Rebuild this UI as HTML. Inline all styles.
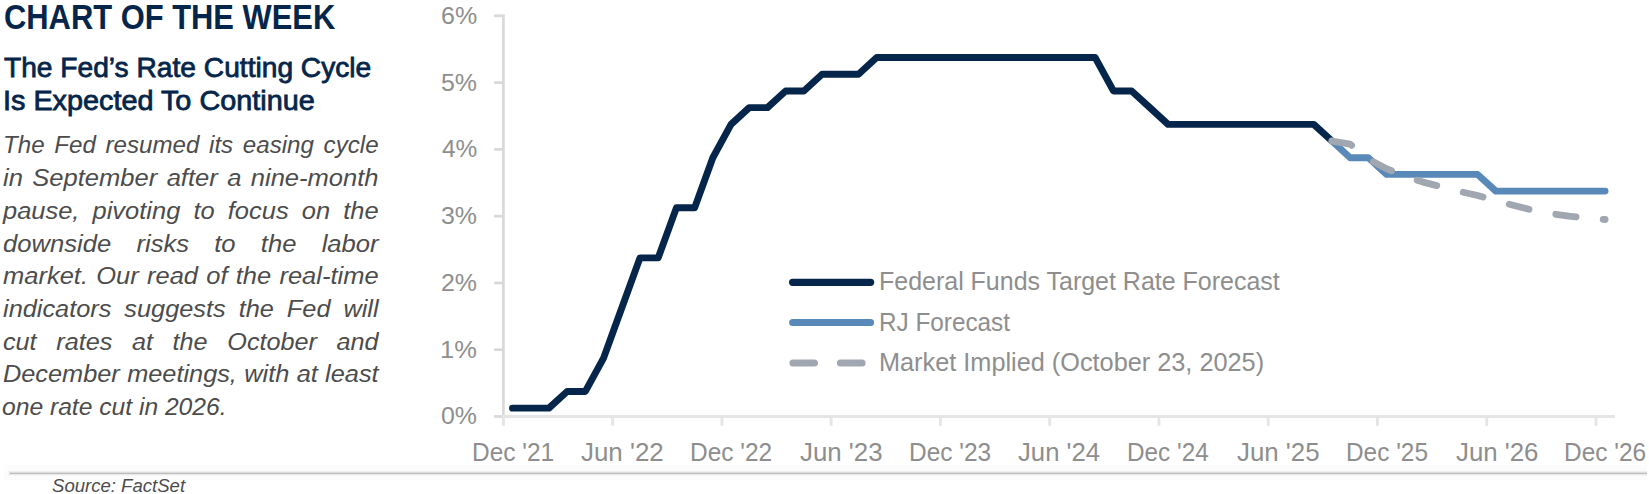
<!DOCTYPE html>
<html lang="en"><head><meta charset="utf-8"><title>Chart of the Week</title>
<style>
html,body{margin:0;padding:0;background:#fff;}
body{width:1649px;height:494px;position:relative;overflow:hidden;font-family:"Liberation Sans",sans-serif;}
.t{position:absolute;white-space:nowrap;line-height:1;transform-origin:0 0;}
.b{font-weight:bold;} .sb{-webkit-text-stroke:0.8px #05264a;} .i{font-style:italic;}
.navy{color:#05264a;} .lbl{color:#8e8e8e;} .para{color:#4c4c4c;}
.pl{position:absolute;line-height:1;font-style:italic;color:#4c4c4c;white-space:nowrap;transform-origin:0 0;text-align:justify;text-align-last:justify;}
svg{position:absolute;left:0;top:0;}
</style></head>
<body>
<svg width="1649" height="494" viewBox="0 0 1649 494">
<rect x="4" y="465" width="1643" height="15" fill="#fcfcfc"/>
<line x1="8" y1="473.3" x2="1647" y2="473.3" stroke="#f4f4f4" stroke-width="5"/>
<line x1="9" y1="473.3" x2="1647" y2="473.3" stroke="#e6e6e6" stroke-width="3"/>
<line x1="10" y1="473.3" x2="1647" y2="473.3" stroke="#bebebe" stroke-width="1.3"/>
<g stroke="#d9d9d9" stroke-width="2.7" fill="none">
<line x1="503.4" y1="14.47" x2="503.4" y2="417.85"/>
<line x1="494.1" y1="416.50" x2="503.4" y2="416.50"/>
<line x1="494.1" y1="349.72" x2="503.4" y2="349.72"/>
<line x1="494.1" y1="282.94" x2="503.4" y2="282.94"/>
<line x1="494.1" y1="216.16" x2="503.4" y2="216.16"/>
<line x1="494.1" y1="149.38" x2="503.4" y2="149.38"/>
<line x1="494.1" y1="82.60" x2="503.4" y2="82.60"/>
<line x1="494.1" y1="15.82" x2="503.4" y2="15.82"/>
</g>
<g stroke="#e5e5e5" stroke-width="2.9" fill="none">
<line x1="502.05" y1="416.5" x2="1615" y2="416.5"/>
<line x1="503.40" y1="416.5" x2="503.40" y2="425.8"/>
<line x1="612.66" y1="416.5" x2="612.66" y2="425.8"/>
<line x1="721.92" y1="416.5" x2="721.92" y2="425.8"/>
<line x1="831.18" y1="416.5" x2="831.18" y2="425.8"/>
<line x1="940.44" y1="416.5" x2="940.44" y2="425.8"/>
<line x1="1049.70" y1="416.5" x2="1049.70" y2="425.8"/>
<line x1="1158.96" y1="416.5" x2="1158.96" y2="425.8"/>
<line x1="1268.22" y1="416.5" x2="1268.22" y2="425.8"/>
<line x1="1377.48" y1="416.5" x2="1377.48" y2="425.8"/>
<line x1="1486.74" y1="416.5" x2="1486.74" y2="425.8"/>
<line x1="1596.00" y1="416.5" x2="1596.00" y2="425.8"/>
</g>
<g fill="none" stroke-linecap="round" stroke-linejoin="round">
<polyline points="512.50,408.15 548.92,408.15 567.13,391.46 585.35,391.46 603.55,358.07 621.76,307.98 639.98,257.90 658.18,257.90 676.39,207.81 694.61,207.81 712.82,157.73 731.02,124.34 749.24,107.64 767.44,107.64 785.65,90.95 803.87,90.95 822.08,74.25 858.50,74.25 876.70,57.56 1095.22,57.56 1113.43,90.95 1131.64,90.95 1149.86,107.64 1168.07,124.34 1313.74,124.34 1331.95,141.03" stroke="#05264a" stroke-width="6.9"/>
<polyline points="1331.95,141.03 1350.16,157.73 1368.38,157.73 1386.59,174.42 1477.63,174.42 1495.85,191.12 1605.11,191.12" stroke="#5889b8" stroke-width="6.8"/>
<polyline points="1331.95,141.03 1350.16,144.04 1368.38,159.06 1386.59,168.75 1404.80,176.09 1423.01,182.10 1441.22,186.78 1459.43,191.45 1477.63,195.46 1495.85,200.80 1514.06,205.48 1532.26,210.15 1550.47,213.49 1568.68,216.16 1586.89,218.16 1605.11,219.50" stroke="#a1a7b0" stroke-width="6.8" stroke-dasharray="20.4 27.25"/>
<line x1="792.6" y1="282.3" x2="870.6" y2="282.3" stroke="#05264a" stroke-width="7.2"/>
<line x1="792.6" y1="322.5" x2="870.6" y2="322.5" stroke="#5889b8" stroke-width="7"/>
<line x1="793" y1="363" x2="814.4" y2="363" stroke="#a1a7b0" stroke-width="7.2"/>
<line x1="840.5" y1="363" x2="862" y2="363" stroke="#a1a7b0" stroke-width="7.2"/>
</g></svg>
<div class="t b navy" id="t1" style="left:3.79px;top:0.23px;font-size:34.7px;transform:scaleX(0.8906)">CHART OF THE WEEK</div>
<div class="t sb navy" id="t2" style="left:3.81px;top:53.51px;font-size:28.1px;transform:scaleX(1.0023)">The Fed’s Rate Cutting Cycle</div>
<div class="t sb navy" id="t3" style="left:2.75px;top:86.51px;font-size:28.1px;transform:scaleX(1.0252)">Is Expected To Continue</div>
<div class="t i para" id="src" style="left:52.31px;top:476.35px;font-size:19.2px;transform:scaleX(0.9671)">Source: FactSet</div>
<div class="t lbl" id="l1" style="left:879.11px;top:268.65px;font-size:25.1px;transform:scaleX(0.9952)">Federal Funds Target Rate Forecast</div>
<div class="t lbl" id="l2" style="left:879.22px;top:309.65px;font-size:25.1px;transform:scaleX(0.9685)">RJ Forecast</div>
<div class="t lbl" id="l3" style="left:879.04px;top:349.55px;font-size:25.1px;transform:scaleX(1.0076)">Market Implied (October 23, 2025)</div>
<div class="t lbl" id="y0" style="left:440.90px;top:403.75px;font-size:24.4px;transform:scaleX(1.0202)">0%</div>
<div class="t lbl" id="y1" style="left:440.38px;top:337.97px;font-size:24.4px;transform:scaleX(1.0425)">1%</div>
<div class="t lbl" id="y2" style="left:440.91px;top:271.19px;font-size:24.4px;transform:scaleX(1.0221)">2%</div>
<div class="t lbl" id="y3" style="left:440.95px;top:204.41px;font-size:24.4px;transform:scaleX(1.0217)">3%</div>
<div class="t lbl" id="y4" style="left:442.30px;top:136.63px;font-size:24.4px;transform:scaleX(1.0033)">4%</div>
<div class="t lbl" id="y5" style="left:441.09px;top:70.85px;font-size:24.4px;transform:scaleX(1.0226)">5%</div>
<div class="t lbl" id="y6" style="left:441.45px;top:4.07px;font-size:24.4px;transform:scaleX(1.0249)">6%</div>
<div class="t lbl" id="x0" style="left:472.11px;top:439.54px;font-size:25.0px;transform:scaleX(0.9786)">Dec '21</div>
<div class="t lbl" id="x1" style="left:580.95px;top:439.54px;font-size:25.0px;transform:scaleX(1.0361)">Jun '22</div>
<div class="t lbl" id="x2" style="left:690.40px;top:439.54px;font-size:25.0px;transform:scaleX(0.9781)">Dec '22</div>
<div class="t lbl" id="x3" style="left:799.75px;top:439.54px;font-size:25.0px;transform:scaleX(1.0343)">Jun '23</div>
<div class="t lbl" id="x4" style="left:908.63px;top:439.54px;font-size:25.0px;transform:scaleX(0.9776)">Dec '23</div>
<div class="t lbl" id="x5" style="left:1018.18px;top:439.54px;font-size:25.0px;transform:scaleX(1.0279)">Jun '24</div>
<div class="t lbl" id="x6" style="left:1126.70px;top:439.54px;font-size:25.0px;transform:scaleX(0.9727)">Dec '24</div>
<div class="t lbl" id="x7" style="left:1236.90px;top:439.54px;font-size:25.0px;transform:scaleX(1.0340)">Jun '25</div>
<div class="t lbl" id="x8" style="left:1345.78px;top:439.54px;font-size:25.0px;transform:scaleX(0.9758)">Dec '25</div>
<div class="t lbl" id="x9" style="left:1455.74px;top:439.54px;font-size:25.0px;transform:scaleX(1.0331)">Jun '26</div>
<div class="t lbl" id="x10" style="left:1564.01px;top:439.54px;font-size:25.0px;transform:scaleX(0.9773)">Dec '26</div>
<div class="pl" id="p0" style="left:2.60px;top:133.00px;font-size:24.1px;width:375.13px;transform:scaleX(1.0012)">The Fed resumed its easing cycle</div>
<div class="pl" id="p1" style="left:2.60px;top:165.70px;font-size:24.1px;width:354.20px;transform:scaleX(1.0604)">in September after a nine-month</div>
<div class="pl" id="p2" style="left:2.60px;top:199.30px;font-size:24.1px;width:355.55px;transform:scaleX(1.0564)">pause, pivoting to focus on the</div>
<div class="pl" id="p3" style="left:2.60px;top:232.20px;font-size:24.1px;width:353.37px;transform:scaleX(1.0629)">downside risks to the labor</div>
<div class="pl" id="p4" style="left:2.60px;top:263.60px;font-size:24.1px;width:355.08px;transform:scaleX(1.0578)">market. Our read of the real-time</div>
<div class="pl" id="p5" style="left:2.60px;top:297.30px;font-size:24.1px;width:357.31px;transform:scaleX(1.0512)">indicators suggests the Fed will</div>
<div class="pl" id="p6" style="left:2.60px;top:330.30px;font-size:24.1px;width:359.25px;transform:scaleX(1.0455)">cut rates at the October and</div>
<div class="pl" id="p7" style="left:2.60px;top:361.80px;font-size:24.1px;width:357.45px;transform:scaleX(1.0508)">December meetings, with at least</div>
<div class="pl" id="p8" style="left:2.24px;top:395.40px;font-size:24.1px;transform:scaleX(1.0222);text-align:left;text-align-last:left">one rate cut in 2026.</div>
</body></html>
